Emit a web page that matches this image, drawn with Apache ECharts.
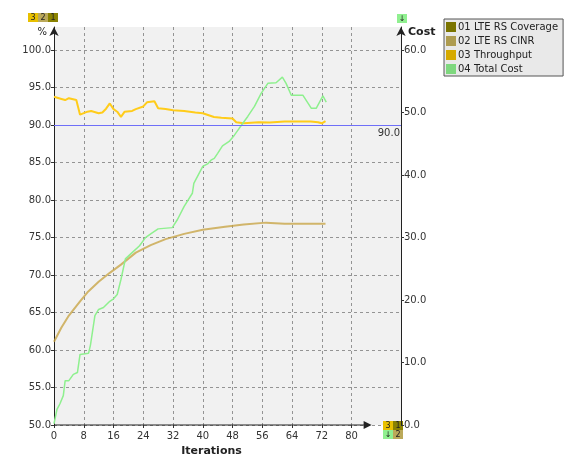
<!DOCTYPE html>
<html>
<head>
<meta charset="utf-8">
<script src="https://cdn.jsdelivr.net/npm/echarts@6/dist/echarts.min.js"></script>
<style>
html, body { margin: 0; padding: 0; background: #fff; }
#main { width: 582px; height: 462px; }
</style>
</head>
<body>
<div id="main"></div>
<script>
// tick labels
var xTicks = [0, 8, 16, 24, 32, 40, 48, 56, 64, 72, 80]
var leftTicks = [50, 55, 60, 65, 70, 75, 80, 85, 90, 95, 100]
var rightTicks = [0, 10, 20, 30, 40, 50, 60]
var targetLine = 90

// 01 LTE RS Coverage (no visible line in the picture)
var coverageIter = []
var coverageVal = []

// 02 LTE RS CINR (%)
var cinrIter = [0, 2, 4, 7, 9, 12, 15, 18, 22, 26, 30, 35, 40, 46, 51, 57, 62, 73]
var cinrVal = [61.1, 63.0, 64.6, 66.5, 67.7, 69.1, 70.3, 71.4, 73.0, 74.0, 74.8, 75.5, 76.05, 76.45, 76.75, 77.0, 76.85, 76.85]

// 03 Throughput (%)
var throughputIter = [0, 2, 3, 4, 6, 7, 8, 9, 10, 12, 13, 14, 15, 16, 17, 18, 19, 21, 22, 24, 25, 27, 28, 30, 32, 35, 38, 40, 43, 45, 48, 49, 51, 55, 58, 62, 66, 69, 71, 72, 73]
var throughputVal = [93.8, 93.5, 93.35, 93.6, 93.35, 91.4, 91.6, 91.8, 91.9, 91.6, 91.7, 92.2, 92.9, 92.15, 91.8, 91.1, 91.8, 91.9, 92.15, 92.5, 93.05, 93.2, 92.25, 92.15, 92.0, 91.9, 91.7, 91.6, 91.1, 91.0, 90.9, 90.4, 90.25, 90.4, 90.35, 90.5, 90.5, 90.5, 90.4, 90.25, 90.55]

// 04 Total Cost (right axis)
var costIter = [0, 0.8, 1.6, 2.5, 3, 4, 5.2, 6.3, 7, 9.3, 9.8, 11, 12, 13.3, 15, 16, 17, 18, 19.2, 21, 23, 24.6, 26, 28, 31.8, 33.2, 35, 37.2, 37.6, 40, 41.3, 42.2, 43.1, 44, 45.3, 47.1, 48.5, 49.8, 52.1, 53.9, 55.7, 57.5, 59.7, 61.4, 62.4, 63.8, 66.9, 69.2, 70.5, 72.3, 73.2]
var costVal = [0.2, 2.5, 3.4, 4.7, 7.1, 7.1, 8.1, 8.4, 11.3, 11.5, 12.8, 17.5, 18.5, 18.8, 19.8, 20.2, 20.9, 23.3, 26.6, 27.6, 28.7, 30, 30.6, 31.4, 31.6, 32.9, 35, 37.1, 38.7, 41.4, 41.8, 42.4, 42.7, 43.5, 44.7, 45.4, 46.4, 47.5, 49.4, 51, 53.1, 54.7, 54.8, 55.7, 54.7, 52.8, 52.8, 50.7, 50.7, 52.7, 51.7]

function zip(xs, ys) {
  return xs.map(function (x, i) { return [x, ys[i]] })
}

var font = 'DejaVu Sans'
var dashed = { color: '#949494', type: [3, 3], width: 1 }

var chart = echarts.init(document.getElementById('main'))
chart.setOption({
  animation: false,
  textStyle: { fontFamily: font },
  grid: {
    left: 54, right: 181, top: 27, bottom: 36,
    show: true, backgroundColor: '#f1f1f1', borderWidth: 0
  },
  legend: {
    orient: 'vertical',
    left: 444, top: 19,
    padding: [2, 5, 1, 2],
    itemGap: 2,
    itemWidth: 10, itemHeight: 10,
    icon: 'rect',
    backgroundColor: 'rgba(226,226,226,0.75)',
    borderColor: '#555', borderWidth: 1,
    itemStyle: { borderWidth: 0 },
    textStyle: { fontFamily: font, fontSize: 10, color: '#222', padding: [0, 0, 0, -3], lineHeight: 12 },
    data: ['01 LTE RS Coverage', '02 LTE RS CINR', '03 Throughput', '04 Total Cost']
  },
  xAxis: {
    type: 'value', min: 0, max: 93.3,
    name: 'Iterations', nameLocation: 'middle', nameGap: 21,
    nameTextStyle: { fontWeight: 'bold', fontSize: 11, color: '#222', padding: [0, 32, 0, 0] },
    axisLine: { show: false },
    axisTick: { customValues: xTicks, length: 3, lineStyle: { color: '#333' } },
    axisLabel: { customValues: xTicks, fontSize: 10, color: '#333', margin: 6 },
    splitLine: { show: true, lineStyle: dashed }
  },
  yAxis: [{
    type: 'value', min: 50, max: 103.1,
    name: '%', nameLocation: 'end', nameGap: -5,
    nameTextStyle: { align: 'right', verticalAlign: 'middle', fontSize: 10, color: '#222', padding: [0, 7, 0, 0] },
    axisLine: { show: true, symbol: ['none', 'arrow'], symbolSize: [7, 9], lineStyle: { color: '#222', width: 1 } },
    axisTick: { show: true, customValues: leftTicks, length: 3, lineStyle: { color: '#333' } },
    axisLabel: { customValues: leftTicks, fontSize: 10, color: '#333', margin: 3, formatter: function (v) { return v.toFixed(1) } },
    splitLine: { show: true, lineStyle: dashed }
  }, {
    type: 'value', min: 0, max: 63.72, position: 'right',
    name: 'Cost', nameLocation: 'end', nameGap: -5,
    nameTextStyle: { align: 'left', verticalAlign: 'middle', fontWeight: 'bold', fontSize: 11, color: '#222', padding: [0, 0, 0, 7] },
    axisLine: { show: true, symbol: ['none', 'arrow'], symbolSize: [7, 9], lineStyle: { color: '#222', width: 1 } },
    axisTick: { show: true, customValues: rightTicks, length: 3, lineStyle: { color: '#333' } },
    axisLabel: { customValues: rightTicks, fontSize: 10, color: '#333', margin: 3, formatter: function (v) { return v.toFixed(1) } },
    splitLine: { show: false }
  }],
  series: [{
    name: '01 LTE RS Coverage', type: 'line', yAxisIndex: 0,
    showSymbol: false, itemStyle: { color: '#7a7400' },
    lineStyle: { color: '#7a7400', width: 2 },
    data: zip(coverageIter, coverageVal)
  }, {
    name: '02 LTE RS CINR', type: 'line', yAxisIndex: 0,
    showSymbol: false, itemStyle: { color: '#ae9c50' },
    lineStyle: { color: 'rgba(198,160,60,0.75)', width: 2 },
    data: zip(cinrIter, cinrVal)
  }, {
    name: '03 Throughput', type: 'line', yAxisIndex: 0,
    showSymbol: false, itemStyle: { color: '#d6aa00' },
    lineStyle: { color: '#ffcc1a', width: 2 },
    data: zip(throughputIter, throughputVal),
    markLine: {
      silent: true, symbol: 'none', z: 10,
      lineStyle: { color: '#6f6ff8', type: 'solid', width: 1, opacity: 1 },
      label: { position: 'insideEndBottom', color: '#333', fontSize: 10, distance: [1, 3], formatter: function (p) { return p.value.toFixed(1) } },
      data: [{ yAxis: targetLine }]
    }
  }, {
    name: '04 Total Cost', type: 'line', yAxisIndex: 1,
    showSymbol: false, itemStyle: { color: '#7ed87e' },
    lineStyle: { color: '#8ef08e', width: 1.5 },
    data: zip(costIter, costVal)
  }]
})

// x axis line with arrow (ends short of the right axis) and the little badges
var o = chart.convertToPixel({ xAxisIndex: 0, yAxisIndex: 0 }, [0, 50])
var e = chart.convertToPixel({ xAxisIndex: 0, yAxisIndex: 0 }, [85.4, 50])
function badge(x, y, label, fill) {
  return {
    type: 'group', x: x, y: y, z: 100,
    children: [
      { type: 'rect', shape: { x: 0, y: 0, width: 10, height: 9 }, style: { fill: fill } },
      { type: 'text', x: 5, y: 5, style: { text: label, fill: '#222', fontSize: 8, fontFamily: font, align: 'center', verticalAlign: 'middle' } }
    ]
  }
}
chart.setOption({
  graphic: [
    { type: 'line', z: 50, shape: { x1: o[0], y1: o[1], x2: e[0] - 6, y2: e[1] }, style: { stroke: '#222', lineWidth: 1 } },
    { type: 'polygon', z: 50, shape: { points: [[e[0], e[1]], [e[0] - 8, e[1] - 4], [e[0] - 8, e[1] + 4]] }, style: { fill: '#222' } },
    badge(28, 13, '3', '#e8c000'),
    badge(38, 13, '2', '#bba95a'),
    badge(48, 13, '1', '#8a8200'),
    badge(397, 14, '\u2193', '#90f090'),
    badge(383, 421, '3', '#e8c000'),
    badge(393, 421, '1', '#8a8200'),
    badge(383, 430, '\u2193', '#90f090'),
    badge(393, 430, '2', '#bba95a')
  ]
})
</script>
</body>
</html>
